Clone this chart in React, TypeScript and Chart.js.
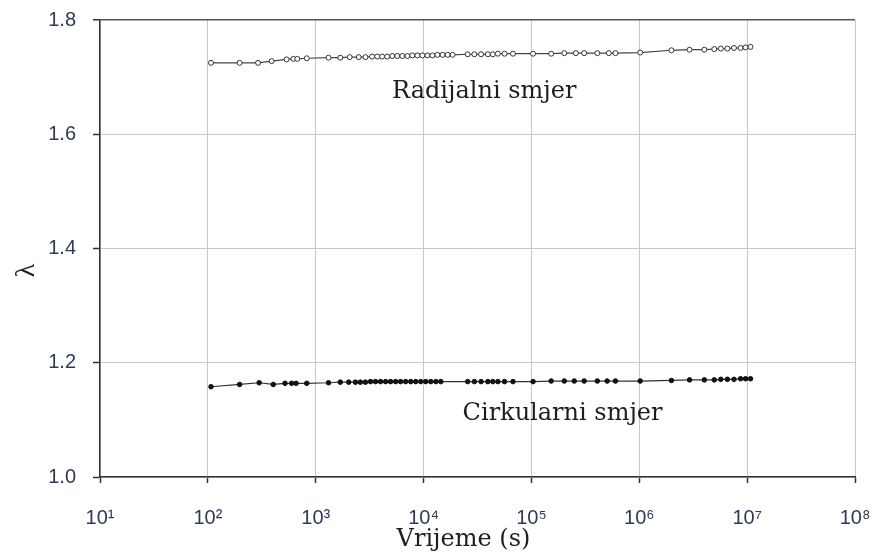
import React, { useEffect, useRef } from 'react';
import { Chart, registerables } from 'chart.js';

Chart.register(...registerables);

// Radijalni smjer (open circles)
const radialTime = [
  107, 197, 292, 390, 537, 621, 676, 826,
  1315, 1690, 2065, 2506, 2891, 3334, 3715, 4130, 4603, 5129, 5702, 6353, 7079, 7870, 8770, 9750,
  10860, 12110, 13460, 15000, 16710, 18580, 25650, 29580, 34120, 39450, 43850, 48870, 56360, 67450,
  103500, 152400, 201800, 258200, 308300, 408300, 522400, 601200,
  1019000, 1986000, 2924000, 4009000, 4955000, 5702000, 6561000, 7551000, 8690000, 9661000, 10740000,
];
const radialLambda = [
  1.725, 1.725, 1.725, 1.728, 1.731, 1.732, 1.732, 1.733,
  1.734, 1.734, 1.735, 1.735, 1.735, 1.736, 1.736, 1.736, 1.736, 1.737, 1.737, 1.737, 1.737, 1.738, 1.738, 1.738,
  1.738, 1.738, 1.739, 1.739, 1.739, 1.739, 1.740, 1.740, 1.740, 1.740, 1.740, 1.741, 1.741, 1.741,
  1.741, 1.741, 1.742, 1.742, 1.742, 1.742, 1.742, 1.742,
  1.743, 1.747, 1.748, 1.748, 1.749, 1.750, 1.750, 1.751, 1.751, 1.752, 1.753,
];

// Cirkularni smjer (filled circles)
const circTime = [
  107, 197, 299, 404, 519, 598, 658, 826,
  1315, 1690, 2023, 2333, 2594, 2891, 3221, 3581, 3990, 4446, 4943, 5508, 6124, 6823, 7603, 8453, 9419,
  10470, 11670, 13000, 14450, 25650, 29580, 34120, 39450, 43850, 48870, 56360, 67450,
  103500, 152400, 201800, 249500, 308300, 408300, 503500, 601200,
  1019000, 1986000, 2924000, 4009000, 4955000, 5702000, 6561000, 7551000, 8690000, 9661000, 10740000,
];
const circLambda = [
  1.158, 1.162, 1.165, 1.162, 1.164, 1.164, 1.164, 1.164,
  1.165, 1.166, 1.166, 1.166, 1.166, 1.166, 1.167, 1.167, 1.167, 1.167, 1.167, 1.167, 1.167, 1.167, 1.167, 1.167, 1.167,
  1.167, 1.167, 1.167, 1.167, 1.167, 1.167, 1.167, 1.167, 1.167, 1.167, 1.167, 1.167,
  1.167, 1.168, 1.168, 1.168, 1.168, 1.168, 1.168, 1.168,
  1.168, 1.169, 1.170, 1.170, 1.170, 1.171, 1.171, 1.171, 1.172, 1.172, 1.172,
];

const xTickValues = [1e1, 1e2, 1e3, 1e4, 1e5, 1e6, 1e7, 1e8];
const xTickLabels = ['10¹', '10²', '10³', '10⁴', '10⁵', '10⁶', '10⁷', '10⁸'];
const yTickValues = [1.0, 1.2, 1.4, 1.6, 1.8];
const yTickLabels = ['1.0', '1.2', '1.4', '1.6', '1.8'];

const radialLabel = 'Radijalni smjer';
const radialLabelAt = { x: 5100, y: 1.6635 };
const circLabel = 'Cirkularni smjer';
const circLabelAt = { x: 23000, y: 1.0998 };
const xTitle = 'Vrijeme (s)';
const yTitle = 'λ';

const TICK_COLOR = '#2f3a58';

const textPlugin = {
  id: 'annotText',
  afterDraw(chart: any) {
    const ctx = chart.ctx;
    const xs = chart.scales.x;
    const ys = chart.scales.y;
    ctx.save();
    ctx.fillStyle = '#1e1e1e';
    ctx.font = '24px "DejaVu Serif"';
    ctx.textAlign = 'left';
    ctx.textBaseline = 'alphabetic';
    ctx.fillText(radialLabel, xs.getPixelForValue(radialLabelAt.x), ys.getPixelForValue(radialLabelAt.y));
    ctx.fillText(circLabel, xs.getPixelForValue(circLabelAt.x), ys.getPixelForValue(circLabelAt.y));

    // x title
    ctx.font = '24px "DejaVu Serif"';
    ctx.textAlign = 'center';
    ctx.textBaseline = 'middle';
    const cx = (chart.chartArea.left + chart.chartArea.right) / 2 - 14;
    ctx.fillText(xTitle, cx, chart.height - 17);

    // y title
    ctx.translate(27, (chart.chartArea.top + chart.chartArea.bottom) / 2 + 22);
    ctx.rotate(-Math.PI / 2);
    ctx.font = '28px "Liberation Serif"';
    ctx.fillText(yTitle, 0, 0);
    ctx.restore();
  },
};

export default function App() {
  const canvasRef = useRef<HTMLCanvasElement | null>(null);

  useEffect(() => {
    document.body.style.margin = '0';
    const canvas = canvasRef.current;
    if (!canvas) return;
    const chart = new Chart(canvas, {
      type: 'line',
      data: {
        datasets: [
          {
            label: radialLabel,
            data: radialTime.map((t, i) => ({ x: t, y: radialLambda[i] })),
            borderColor: '#444',
            borderWidth: 1.2,
            pointRadius: 2.5,
            pointBorderWidth: 1,
            pointBackgroundColor: '#ffffff',
            pointBorderColor: '#333',
            pointStyle: 'circle',
            tension: 0,
          },
          {
            label: circLabel,
            data: circTime.map((t, i) => ({ x: t, y: circLambda[i] })),
            borderColor: '#333',
            borderWidth: 1.2,
            pointRadius: 2.3,
            pointBorderWidth: 1,
            pointBackgroundColor: '#111',
            pointBorderColor: '#111',
            pointStyle: 'circle',
            tension: 0,
          },
        ],
      },
      options: {
        animation: false,
        responsive: true,
        maintainAspectRatio: false,
        layout: { padding: { top: 20, right: 24, left: 0, bottom: 0 } },
        plugins: {
          legend: { display: false },
          tooltip: { enabled: false },
          title: { display: false },
        },
        scales: {
          x: {
            type: 'logarithmic',
            min: 1e1,
            max: 1e8,
            afterBuildTicks: (scale: any) => {
              scale.ticks = xTickValues.map((v) => ({ value: v }));
            },
            afterFit: (scale: any) => {
              scale.height = 80;
              scale.paddingLeft = 0;
              scale.paddingRight = 0;
            },
            ticks: {
              callback: (_v: any, i: number) => xTickLabels[i],
              color: TICK_COLOR,
              font: { family: '"Liberation Sans", Arial, sans-serif', size: 20 },
              padding: 23,
              maxRotation: 0,
              autoSkip: false,
            },
            grid: {
              color: '#c8c8c8',
              lineWidth: 1,
              tickLength: 6,
              tickColor: '#333',
              tickWidth: 1.5,
            },
            border: { color: '#333', width: 1.5 },
          },
          y: {
            type: 'linear',
            min: 1.0,
            max: 1.8,
            afterBuildTicks: (scale: any) => {
              scale.ticks = yTickValues.map((v) => ({ value: v }));
            },
            afterFit: (scale: any) => {
              scale.width = 100;
              scale.paddingTop = 0;
              scale.paddingBottom = 0;
            },
            ticks: {
              callback: (_v: any, i: number) => yTickLabels[i],
              color: TICK_COLOR,
              font: { family: '"Liberation Sans", Arial, sans-serif', size: 20 },
              padding: 17,
            },
            grid: {
              color: (c: any) => (c.tick && c.tick.value === 1.8 ? '#555' : '#c8c8c8'),
              lineWidth: (c: any) => (c.tick && c.tick.value === 1.8 ? 1.5 : 1),
              tickLength: 7,
              tickColor: '#333',
              tickWidth: 1.5,
            },
            border: { color: '#333', width: 1.5 },
          },
        },
      },
      plugins: [textPlugin],
    });
    return () => chart.destroy();
  }, []);

  return (
    <div style={{ width: 879, height: 557, position: 'relative', background: '#fff' }}>
      <canvas ref={canvasRef} />
    </div>
  );
}
